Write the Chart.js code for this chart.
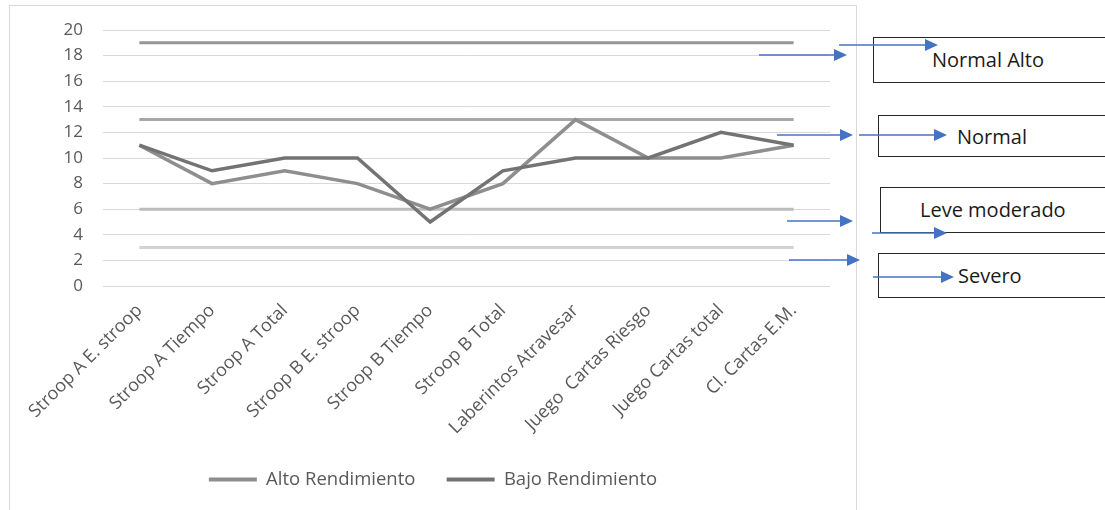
<!DOCTYPE html>
<html><head><meta charset="utf-8">
<script src="https://cdn.jsdelivr.net/npm/chart.js@4.4.1/dist/chart.umd.min.js"></script>
<style>
html,body{margin:0;padding:0;background:#fff;width:1105px;height:510px;overflow:hidden;font-family:"Open Sans",sans-serif}
#frame{position:absolute;left:9px;top:5px;width:848px;height:520px;border:1px solid #d9d9d9;box-sizing:border-box}
#wrap{position:absolute;left:10px;top:5px;width:846px;height:505px}
.box{position:absolute;border:1.5px solid #262626;border-right:none;background:#fff;box-sizing:border-box}
.lbl{position:absolute;font-size:20px;line-height:24px;color:#1a1a1a;white-space:nowrap}
#arrows{position:absolute;left:0;top:0}
</style>
</head><body>
<div id="frame"></div>
<div id="wrap"><canvas id="c"></canvas></div>
<div class="box" style="left:873px;top:37px;width:240px;height:46px"></div>
<div class="box" style="left:878px;top:115px;width:240px;height:42px"></div>
<div class="box" style="left:880px;top:187px;width:240px;height:46px"></div>
<div class="box" style="left:878px;top:253px;width:240px;height:45px"></div>
<div class="lbl" style="left:932px;top:48px">Normal Alto</div>
<div class="lbl" style="left:957px;top:125px">Normal</div>
<div class="lbl" style="left:920px;top:198px">Leve moderado</div>
<div class="lbl" style="left:958px;top:264px">Severo</div>
<svg id="arrows" width="1105" height="510"></svg>
<script>
const categories = ["Stroop A E. stroop","Stroop A Tiempo","Stroop A Total","Stroop B E. stroop","Stroop B Tiempo","Stroop B Total","Laberintos Atravesar","Juego  Cartas Riesgo","Juego Cartas total","Cl. Cartas E.M."];
const altoRendimiento = [11,8,9,8,6,8,13,10,10,11];
const bajoRendimiento = [11,9,10,10,5,9,10,10,12,11];
const normalAlto   = [19,19,19,19,19,19,19,19,19,19];
const normal       = [13,13,13,13,13,13,13,13,13,13];
const leveModerado = [6,6,6,6,6,6,6,6,6,6];
const severo       = [3,3,3,3,3,3,3,3,3,3];
const yTicks = [0,2,4,6,8,10,12,14,16,18,20];

// annotation arrows [x1, x2, y]
const arrows = [[839,938,45],[759,847,55],[777,853,135],[859,947,135],[787,853,221],[872,947,233],[789,860,260],[873,954,277]];
(function(){
  const svg = document.getElementById('arrows');
  let s = '';
  arrows.forEach(a=>{
    const [x1,x2,y]=a, hl=13, hw=6;
    s += `<line x1="${x1}" y1="${y}" x2="${x2-hl+1}" y2="${y}" stroke="#4472C4" stroke-width="1.3"/>`;
    s += `<polygon points="${x2},${y} ${x2-hl},${y-hw} ${x2-hl},${y+hw}" fill="#4472C4"/>`;
  });
  svg.innerHTML = s;
})();

const ds = (label, data, color, width, order, legend) => ({
  label, data, borderColor: color, backgroundColor: color, borderWidth: width,
  pointRadius: 0, pointHoverRadius: 0, tension: 0, fill: false, order, inLegend: legend
});

new Chart(document.getElementById('c'), {
  type: 'line',
  data: {
    labels: categories,
    datasets: [
      ds('Alto Rendimiento', altoRendimiento, '#8e8e8e', 3.5, 2, true),
      ds('Bajo Rendimiento', bajoRendimiento, '#737373', 3.5, 1, true),
      ds('Normal Alto', normalAlto, '#969696', 3, 3, false),
      ds('Normal', normal, '#a6a6a6', 3, 3, false),
      ds('Leve moderado', leveModerado, '#bdbdbd', 3, 3, false),
      ds('Severo', severo, '#d2d2d2', 3, 3, false)
    ]
  },
  options: {
    responsive: true, maintainAspectRatio: false, animation: false,
    layout: { padding: { left: 0, right: 0, top: 25, bottom: 11.25 } },
    plugins: {
      tooltip: { enabled: false },
      legend: {
        position: 'bottom',
        labels: {
          font: { family: 'Open Sans', size: 18.5 }, color: '#595959',
          boxWidth: 48, boxHeight: 4, padding: 31.25,
          filter: (item, data) => data.datasets[item.datasetIndex].inLegend,
          generateLabels: (chart) => chart.data.datasets.map((d, i) => ({
            text: d.label, fillStyle: d.borderColor, strokeStyle: d.borderColor, lineWidth: 0,
            datasetIndex: i, hidden: false, fontColor: '#595959'
          }))
        }
      }
    },
    scales: {
      x: {
        offset: true,
        grid: { display: false },
        border: { display: false },
        ticks: { autoSkip: false, maxRotation: 45, minRotation: 45, padding: 6,
                 color: '#595959', font: { family: 'Open Sans', size: 18 } },
        afterFit: s => { s.height = 153; }
      },
      y: {
        min: 0, max: 20,
        afterBuildTicks: s => { s.ticks = yTicks.map(v => ({ value: v })); },
        grid: { color: '#d9d9d9', lineWidth: 1, drawTicks: false },
        border: { display: false },
        ticks: { padding: 20, color: '#595959', font: { family: 'Open Sans', size: 17 } },
        afterFit: s => { s.width = 93; s.paddingTop = 0; s.paddingBottom = 0; }
      },
      yR: {
        position: 'right', min: 0, max: 20,
        grid: { display: false }, border: { display: false },
        ticks: { display: false },
        afterFit: s => { s.width = 26; s.paddingTop = 0; s.paddingBottom = 0; }
      }
    }
  }
});
</script>
</body></html>
